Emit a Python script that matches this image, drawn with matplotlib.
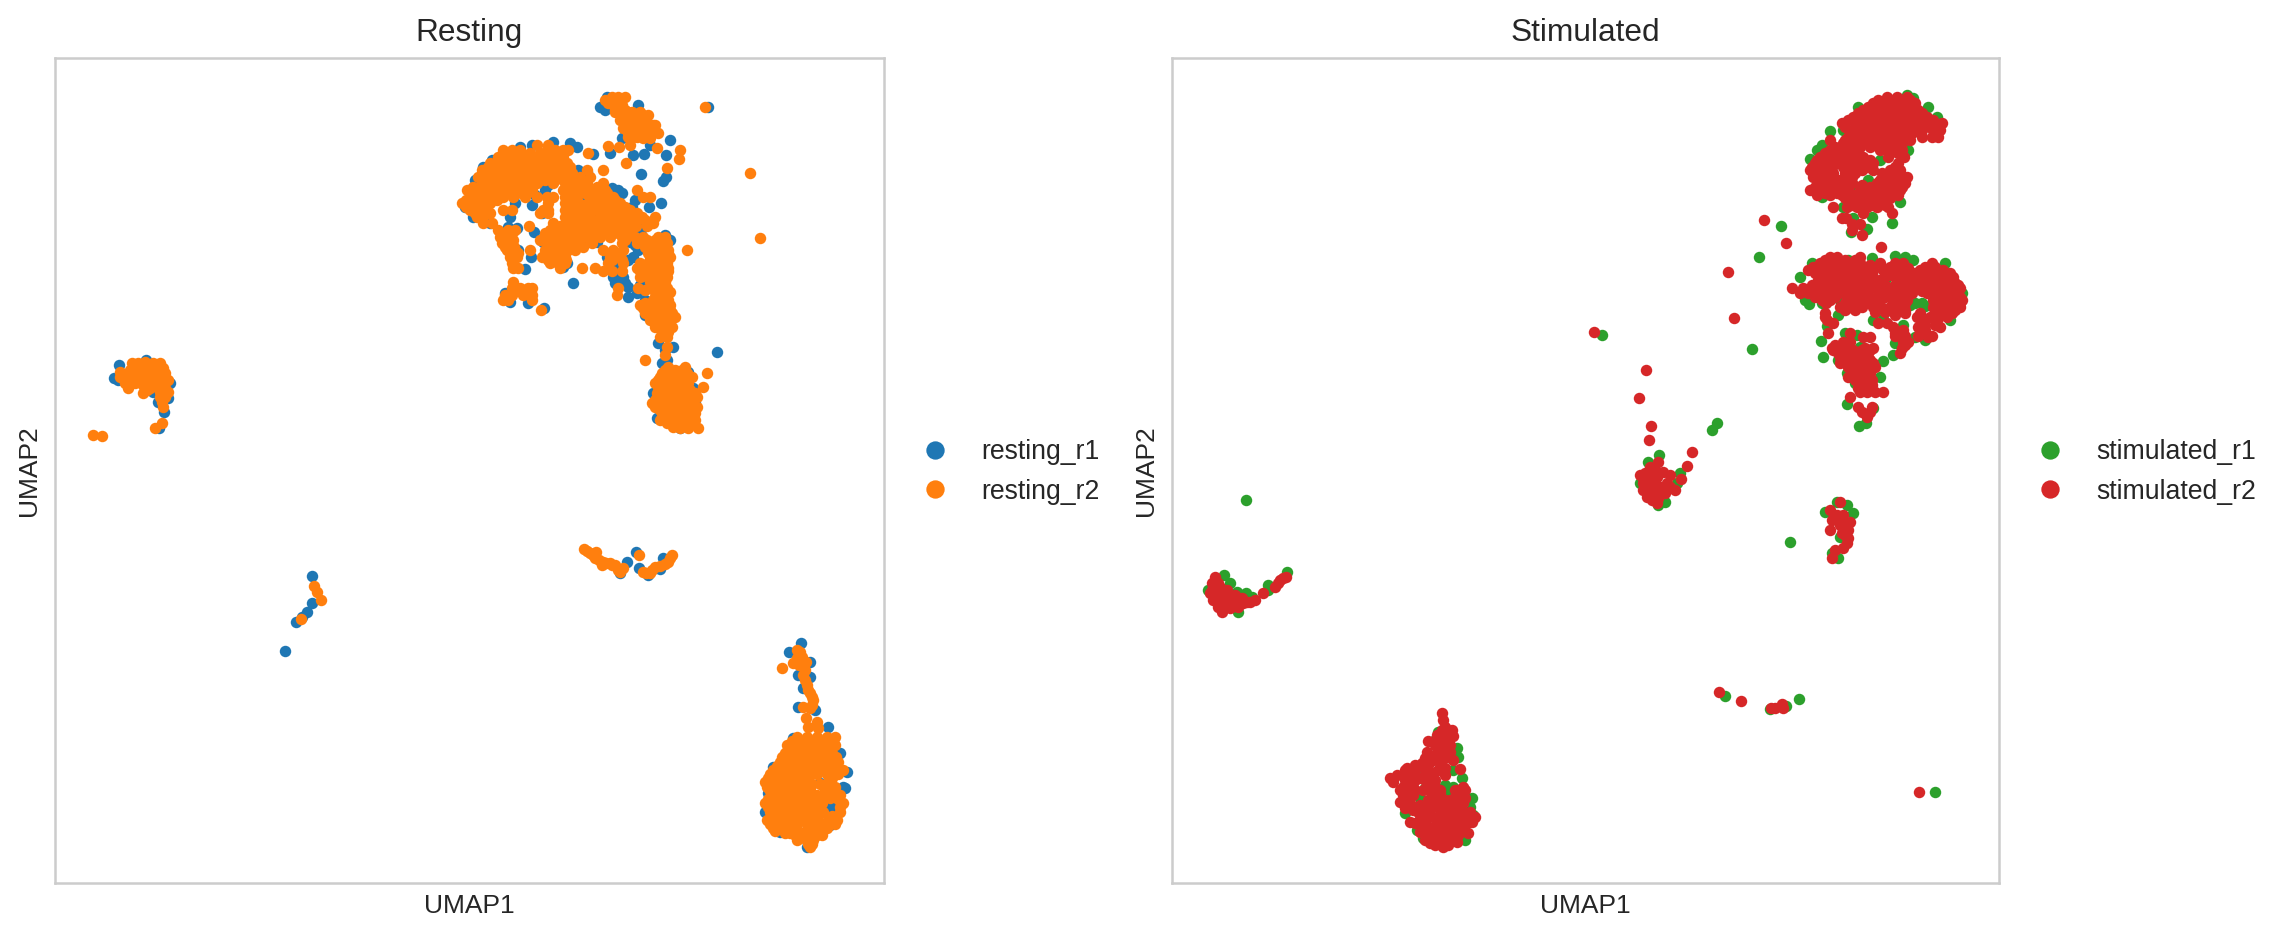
import numpy as np
import matplotlib
matplotlib.use("Agg")
import matplotlib.pyplot as plt
from matplotlib.lines import Line2D

plt.rcParams["font.family"] = ["Liberation Sans", "DejaVu Sans"]

# UMAP positions, scale is the picture's pixel grid
# rows are (umap2, [umap1, ...]), single points are (umap1, umap2)

r2_main_rows = [
    (97, [612, 618, 625]), (100, [605]), (103, [610, 617]), (110, [625, 615]),
    (112, [615, 622, 628]), (115, [637, 643, 648]), (120, [620, 627, 633]),
    (122, [640]), (123, [647]), (125, [653]), (128, [623, 637]),
    (130, [630, 643]), (132, [650]), (133, [658]), (137, [628, 637]),
    (138, [643]), (145, [630, 537, 548]),
    (150, [503, 512, 520, 547, 555, 563, 568]),
    (157, [498, 507, 515, 523, 537, 547, 555, 563]),
    (163, [490, 498, 507, 515, 530, 538, 550, 558, 567]),
    (170, [482, 490, 498, 508, 520, 528, 537, 550, 558, 567, 587, 603]),
    (177, [478, 487, 495, 503, 520, 528, 538, 550, 560, 567, 580, 590]),
    (183, [482, 490, 502, 510, 518, 527, 537, 553, 565, 572, 578, 587, 603]),
    (190, [467, 480, 492, 502, 512, 522, 532, 563, 570, 580, 590, 600, 637]),
    (197, [472, 480, 490, 503, 513, 525, 537, 547, 553, 565, 573, 590, 600, 613, 643, 650]),
    (203, [462, 470, 480, 490, 548, 565, 573, 588, 597, 610, 620]),
    (210, [470, 478, 487, 503, 512, 543, 548, 565, 572, 587, 597, 612, 623, 630]),
    (217, [477, 483, 565, 572, 582, 588, 603, 625, 632, 642, 655]),
    (223, [483, 492, 553, 567, 575, 583, 593, 610, 620, 632, 653]),
    (230, [498, 508, 515, 555, 565, 573, 583, 592, 600, 613, 622, 630]),
    (237, [500, 510, 557, 565, 573, 583, 593, 610, 622, 635, 643, 658, 665]),
    (243, [502, 512, 547, 557, 565, 575, 592, 622, 637, 653, 660, 667]),
    (250, [507, 515, 530, 545, 557, 568, 575, 603, 613, 623, 653, 662, 668, 687]),
    (257, [510, 517, 542, 553, 565, 610, 620, 650, 660, 670]),
    (263, [512, 550, 558, 565, 608, 623, 640, 648, 655, 667]),
    (268, [513, 518, 560, 582, 595, 637, 645, 653, 662, 668]),
    (277, [640, 648, 657, 667]), (282, [513]),
    (288, [512, 520, 528, 532, 618, 638, 652, 660, 667]),
    (295, [505, 512, 523, 532, 617, 660, 667]),
    (300, [503, 508, 532, 653, 662, 668]),
    (305, [640, 648, 657, 665, 670]),
    (310, [541, 653, 662, 670]), (317, [655, 663, 675]), (323, [658, 667]),
    (332, [662, 668]), (347, [667]), (355, [665]), (360, [645]),
    (367, [668, 685]), (373, [662, 670, 678, 687, 707]),
    (380, [658, 667, 675, 683]), (387, [658, 667, 673, 682, 703]),
    (393, [657, 667, 675, 685, 695]), (403, [652, 660, 673, 682, 693]),
    (410, [660, 670, 678, 687]), (417, [662, 670, 680, 690]),
    (423, [667, 677, 685, 693]), (428, [680, 688, 698]),
]
r2_main_fill = [
    (153, [530, 540]), (160, [505, 513, 522, 530, 540, 552, 560]),
    (167, [488, 495, 503, 512, 520, 530, 540, 553, 562, 570]),
    (173, [485, 493, 500, 510, 523, 533, 545, 555, 563, 572]),
    (180, [485, 495, 507, 515, 523, 533, 545, 555, 567, 575]),
    (187, [473, 485, 497, 505, 515, 525, 567, 575]),
    (193, [475, 485, 497, 507, 517, 527, 568, 577, 585, 595, 607]),
    (200, [466, 476, 485, 497, 568, 577, 592, 603, 615]),
    (207, [466, 474, 484, 568, 592, 605, 617, 625]),
    (213, [475, 482, 490, 540, 548, 568, 577, 590, 600, 608, 620, 628, 637]),
    (220, [570, 578, 590, 598, 607, 615, 628, 637, 645]),
    (226, [529, 560, 570, 578, 590, 598, 605, 618, 627, 636, 647]),
    (233, [502, 512, 560, 568, 578, 590, 598, 607, 618, 627]),
    (240, [503, 513, 552, 562, 570, 580, 590, 625, 647, 655, 663]),
    (247, [505, 514, 548, 560, 572, 583, 645]),
    (253, [510, 518, 545, 555, 565, 610, 620, 648, 660, 668]),
    (260, [548, 556, 566, 612, 622, 655, 665]),
    (271, [603, 612, 622, 640, 648, 658, 668]),
    (290, [520, 525]), (292, [655, 663, 670]), (298, [508, 657, 665]),
    (303, [645, 655, 668]), (308, [643, 650, 658, 667]),
    (313, [645, 655, 663, 672]), (320, [650, 660, 670]),
    (327, [655, 663, 672]), (337, [660, 667]),
    (370, [665, 675, 682]), (377, [660, 668, 677, 685, 692]),
    (383, [655, 663, 672, 680, 688]), (390, [660, 670, 680, 690]),
    (397, [657, 665, 678, 688, 697]), (400, [655, 667, 680, 690]),
    (407, [655, 665, 677, 688, 697]), (413, [662, 675, 685, 695]),
    (420, [660, 672, 682, 695]), (427, [673]),
]
r2_main_extra = [
    (608, 103), (615, 106), (622, 105), (630, 118), (625, 118), (632, 112),
    (640, 112), (635, 125), (628, 127), (645, 120), (652, 130), (655, 125),
    (633, 137), (650, 138), (640, 130), (635, 118), (628, 133), (648, 130),
    (597, 187), (605, 190), (610, 205), (603, 213), (620, 215), (630, 218),
    (605, 225), (600, 237), (610, 230), (583, 205), (580, 210), (578, 215),
    (590, 213), (545, 233), (550, 230), (548, 240), (540, 240), (552, 250),
    (562, 257), (647, 270), (642, 275), (650, 282), (660, 272), (665, 282),
    (645, 290), (655, 297), (660, 282), (540, 180), (545, 175), (548, 165),
]
r2_scattered = [
    (705, 107), (750, 173), (760, 238), (608, 146), (619, 147), (588, 153),
    (626, 163), (680, 150), (679, 159), (667, 168), (657, 148),
]
r2_left = [
    (132, 363), (138, 363), (145, 362), (153, 363), (160, 363), (120, 372),
    (130, 370), (138, 370), (147, 368), (157, 370), (165, 373), (120, 377),
    (130, 378), (140, 378), (152, 377), (160, 378), (168, 380), (128, 388),
    (143, 385), (150, 383), (158, 387), (168, 392), (163, 385), (143, 393),
    (147, 390), (162, 402), (165, 397), (163, 407), (162, 423), (155, 428),
    (93, 435), (102, 436), (314, 586), (317, 592), (321, 600), (301, 619),
    (125, 375), (135, 375), (145, 375), (155, 373), (125, 383), (135, 383),
    (145, 380), (155, 382), (165, 378), (150, 388), (160, 392), (165, 388),
    (160, 397), (143, 370), (153, 368), (163, 368),
]
r2_band = [
    (584, 549), (590, 553), (596, 552), (595, 558), (602, 565), (603, 562),
    (610, 563), (615, 565), (620, 572), (623, 568), (639, 555), (643, 572),
    (650, 573), (655, 567), (660, 566), (668, 562), (672, 555), (587, 551),
    (599, 560), (606, 563), (612, 565), (618, 570), (646, 573), (652, 570),
    (665, 564), (670, 558), (593, 555),
]
r2_tail = [
    (797, 650), (802, 657), (793, 663), (803, 665), (782, 668), (803, 675),
    (807, 685), (810, 693), (813, 700), (803, 707), (810, 708), (806, 718),
    (817, 722), (808, 727), (818, 728), (800, 652), (797, 658), (799, 665),
    (806, 662), (805, 670), (805, 680), (808, 690), (812, 697), (812, 705),
]
r2_bottom_rows = [
    (737, [797, 807, 817, 827, 835]), (745, [787, 797, 807, 817, 827, 835]),
    (753, [785, 793, 803, 813, 823, 832]),
    (762, [780, 790, 800, 810, 820, 830, 838]),
    (770, [773, 782, 792, 802, 812, 822, 832, 843]),
    (778, [768, 778, 788, 798, 808, 832]), (787, [767, 777, 787, 797, 835]),
    (795, [773, 782, 793, 807, 817, 840]),
    (803, [765, 775, 787, 802, 812, 822, 843]),
    (812, [770, 778, 793, 803, 813, 823, 840]),
    (820, [767, 777, 792, 802, 812, 828, 837]),
    (828, [773, 778, 793, 808, 818, 827]), (835, [795, 807, 817, 822]),
    (840, [797, 807, 813]), (847, [810]),
    (741, [792, 802, 812, 822, 832]), (749, [790, 800, 810, 820, 830]),
    (757, [782, 790, 798, 808, 818, 828, 836]),
    (766, [777, 785, 795, 805, 815, 825, 835]),
    (774, [770, 777, 787, 797, 807, 817, 827, 838]),
    (782, [765, 773, 783, 793, 830]), (791, [770, 780, 790, 835]),
    (799, [768, 778, 790, 803, 813, 823, 838]),
    (807, [768, 780, 790, 800, 810, 820, 840]),
    (816, [772, 798, 808, 818, 832]),
    (824, [770, 780, 797, 807, 817, 825, 835]),
    (831, [775, 798, 810, 820]), (838, [800, 812]), (844, [808, 812]),
    (800, [795]), (810, [785, 795]), (818, [785, 795]), (826, [785]),
    (833, [785, 790]), (784, [803, 812, 820, 826]), (790, [800, 810, 825]),
    (798, [830]),
]
r1_main = [
    (600, 107), (605, 110), (607, 97), (638, 105), (622, 138), (670, 140),
    (650, 145), (610, 153), (633, 155), (644, 154), (666, 155), (593, 154),
    (641, 174), (666, 177), (663, 181), (661, 203), (649, 207), (618, 190),
    (612, 188), (553, 142), (532, 145), (520, 147), (570, 143), (577, 147),
    (505, 152), (492, 160), (483, 167), (475, 180), (465, 207), (473, 217),
    (490, 223), (508, 227), (517, 228), (534, 232), (532, 205), (510, 217),
    (542, 213), (515, 203), (578, 170), (587, 172), (580, 202), (578, 197),
    (597, 213), (622, 193), (632, 207), (623, 212), (617, 213), (642, 228),
    (665, 235), (670, 240), (630, 242), (638, 250), (633, 257), (607, 257),
    (531, 257), (543, 242), (525, 269), (518, 250), (563, 267), (573, 283),
    (567, 263), (583, 240), (597, 242), (613, 277), (623, 277), (628, 287),
    (628, 297), (637, 293), (615, 283), (505, 293), (510, 302), (528, 303),
    (544, 308), (645, 315), (652, 320), (658, 343), (673, 347), (662, 363),
    (717, 352), (688, 372), (693, 388), (708, 107), (653, 393), (657, 418),
    (680, 428), (672, 422), (548, 185), (545, 190), (535, 195), (525, 195),
    (500, 183), (512, 178), (580, 190), (605, 205), (595, 200), (615, 205),
    (635, 200), (628, 235), (640, 235), (635, 245), (628, 260), (652, 262),
    (657, 267), (648, 285), (655, 288), (620, 265), (612, 268), (618, 278),
    (625, 283), (640, 285), (645, 300), (665, 350), (667, 360), (680, 375),
    (683, 395), (668, 410), (695, 403),
]
r1_left = [
    (119, 365), (114, 378), (118, 380), (146, 360), (164, 412), (158, 402),
    (170, 383), (168, 398), (159, 428), (153, 392), (312, 576), (312, 603),
    (307, 612), (302, 617), (296, 622), (285, 651),
]
r1_band = [
    (636, 552), (627, 562), (620, 573), (639, 568), (663, 558), (660, 569),
    (648, 575),
]
r1_bottom = [
    (801, 643), (789, 652), (810, 662), (798, 675), (810, 677), (803, 688),
    (798, 707), (815, 710), (828, 727), (793, 738), (840, 753), (847, 772),
    (845, 788), (773, 767), (765, 812), (810, 785), (820, 783), (830, 793),
    (833, 807), (785, 812), (780, 832), (807, 847), (823, 830), (817, 823),
    (768, 793), (843, 787), (805, 785), (800, 790), (828, 800), (830, 810),
    (785, 805), (782, 818), (790, 825), (775, 820), (830, 825), (815, 830),
    (795, 800), (780, 795), (790, 785),
]

s2_top_rows = [
    (97, [1887, 1897, 1907]), (103, [1873, 1883, 1893, 1903, 1915]),
    (110, [1863, 1873, 1883, 1897, 1907, 1918]),
    (117, [1853, 1863, 1873, 1883, 1897, 1907, 1917, 1927]),
    (123, [1842, 1855, 1865, 1875, 1885, 1895, 1905, 1915, 1927, 1942]),
    (130, [1855, 1865, 1875, 1885, 1895, 1905, 1922, 1933, 1940]),
    (137, [1848, 1858, 1868, 1878, 1895, 1905, 1922, 1932, 1938]),
    (140, [1830]), (143, [1843, 1853, 1867, 1877, 1893, 1902]),
    (150, [1830, 1840, 1855, 1893, 1902]),
    (157, [1820, 1830, 1840, 1855, 1863, 1888, 1904]),
    (163, [1815, 1825, 1835, 1848, 1858, 1873, 1898]),
    (170, [1810, 1820, 1830, 1848, 1862, 1873, 1900]),
    (177, [1813, 1823, 1833, 1852, 1885, 1895, 1907]),
    (183, [1823, 1835, 1847, 1852, 1877, 1887, 1897, 1905]),
    (190, [1810, 1820, 1833, 1845, 1877, 1887, 1900]),
    (195, [1817, 1830, 1842, 1857, 1867, 1878, 1898]),
    (202, [1848, 1858, 1868, 1880]),
    (207, [1833, 1847, 1857, 1867, 1877, 1888]), (213, [1863, 1892]),
    (218, [1842, 1846]), (224, [1860, 1852]), (230, [1852]), (235, [1862]),
    (100, [1878, 1890, 1900, 1910]), (107, [1868, 1878, 1888, 1900, 1912]),
    (113, [1858, 1868, 1878, 1890, 1902, 1912, 1922]),
    (120, [1848, 1858, 1868, 1878, 1890, 1902, 1912, 1922, 1933]),
    (127, [1845, 1860, 1870, 1880, 1890, 1900, 1910, 1918, 1930, 1938]),
    (133, [1850, 1860, 1870, 1880, 1890, 1900, 1912]),
    (140, [1845, 1853, 1863, 1873, 1883, 1890, 1900]),
    (147, [1835, 1847, 1860, 1870, 1897]),
    (153, [1825, 1835, 1845, 1858, 1890, 1898]),
    (160, [1817, 1827, 1837, 1850, 1860, 1870]),
    (167, [1812, 1822, 1832, 1843, 1855, 1867, 1895]),
    (173, [1813, 1823, 1833, 1845, 1855, 1882, 1890, 1900]),
    (180, [1818, 1828, 1840, 1850, 1880, 1890, 1900]),
    (187, [1815, 1828, 1840, 1848, 1870, 1882, 1892, 1902]),
    (193, [1825, 1837, 1850, 1860, 1872, 1885, 1895]),
    (198, [1845, 1855, 1865, 1875, 1890]), (205, [1852, 1862, 1872, 1885]),
    (150, [1880]), (147, [1887]), (143, [1880]), (133, [1885]), (125, [1905]),
    (118, [1912]), (130, [1915]), (140, [1910]), (185, [1885, 1862]),
    (195, [1870]), (200, [1875]), (170, [1890]), (190, [1860, 1868]),
]
s2_mid_rows = [
    (257, [1830, 1837, 1860]),
    (263, [1820, 1830, 1840, 1850, 1860, 1880, 1895, 1903, 1932]),
    (270, [1808, 1820, 1830, 1840, 1850, 1860, 1873, 1883, 1895, 1905, 1920, 1930, 1943]),
    (277, [1820, 1830, 1840, 1855, 1873, 1895, 1903, 1917, 1927, 1937, 1947, 1953]),
    (283, [1823, 1835, 1857, 1877, 1900, 1917, 1927, 1937, 1947, 1955]),
    (288, [1792, 1803, 1817, 1830, 1852, 1863, 1882, 1893, 1903, 1918, 1928, 1940, 1950, 1960]),
    (293, [1800, 1808, 1822, 1832, 1843, 1857, 1880, 1893, 1912, 1927, 1940, 1952]),
    (300, [1822, 1830, 1847, 1858, 1872, 1895, 1907, 1933, 1945, 1957, 1962]),
    (307, [1840, 1850, 1862, 1873, 1890, 1900, 1933, 1945, 1960]),
    (313, [1825, 1905, 1920, 1943, 1952]), (320, [1827, 1923, 1937]),
    (323, [1833, 1878, 1887]), (327, [1893, 1918, 1940]),
    (333, [1828, 1850, 1895, 1900, 1923]), (337, [1863, 1870, 1928]),
    (342, [1843, 1850, 1903, 1908]),
    (348, [1832, 1838, 1848, 1865, 1873, 1902]),
    (353, [1838, 1847, 1857, 1865, 1900]), (363, [1840, 1852, 1863, 1873]),
    (370, [1855, 1867]), (377, [1848, 1860, 1868]), (385, [1860, 1872]),
    (392, [1860, 1867, 1875, 1883]), (397, [1850]), (407, [1858, 1872]),
    (417, [1867]),
    (260, [1825, 1835, 1845, 1855]),
    (267, [1813, 1825, 1835, 1845, 1855, 1865, 1890, 1900, 1925, 1935]),
    (273, [1815, 1825, 1835, 1845, 1855, 1868, 1895, 1915, 1925, 1935, 1945, 1950]),
    (280, [1818, 1828, 1838, 1850, 1862, 1880, 1900, 1912, 1922, 1932, 1942, 1952]),
    (285, [1812, 1822, 1835, 1858, 1868, 1885, 1895, 1905, 1922, 1932, 1942, 1952, 1958]),
    (291, [1812, 1826, 1838, 1848, 1868, 1888, 1898, 1908, 1922, 1935, 1945, 1955]),
    (297, [1815, 1825, 1835, 1850, 1862, 1885, 1900, 1935, 1945, 1955, 1960]),
    (303, [1826, 1845, 1855, 1865, 1893, 1905, 1938, 1950, 1960]),
    (310, [1845, 1855, 1890, 1935, 1948, 1955]),
    (317, [1825, 1917, 1930, 1947]), (325, [1925, 1935]),
    (330, [1895, 1903, 1925]), (336, [1895, 1905, 1918, 1932]),
    (345, [1835, 1845, 1905]), (350, [1833, 1843, 1853, 1862, 1870]),
    (357, [1840, 1850, 1860, 1868]), (360, [1845, 1855, 1865, 1870]),
    (367, [1848, 1858, 1868, 1875]), (373, [1852, 1862, 1870]),
    (380, [1855, 1865, 1872]), (388, [1858, 1866]), (412, [1862, 1870]),
    (288, [1875]), (300, [1870]), (295, [1878, 1895, 1908]), (305, [1880]),
    (312, [1885, 1875]), (290, [1913]), (310, [1905]), (315, [1895]),
    (283, [1845]), (270, [1850]), (275, [1862, 1888, 1912]), (283, [1868]),
    (270, [1885]), (268, [1908]), (265, [1870]),
]
s2_scattered = [
    (1881, 247), (1786, 243), (1764, 220), (1728, 272), (1734, 318),
    (1594, 332), (1646, 370), (1639, 398), (1651, 426), (1649, 440),
    (1692, 452), (1687, 466), (1681, 479), (1719, 692), (1741, 701),
    (1771, 708), (1775, 708), (1782, 704), (1783, 708), (1919, 792),
]
s2_small = [
    (1658, 462), (1650, 467), (1645, 473), (1640, 475), (1663, 472),
    (1670, 475), (1647, 480), (1655, 483), (1667, 483), (1675, 490),
    (1643, 490), (1650, 492), (1660, 493), (1647, 497), (1657, 503),
    (1652, 500), (1665, 493), (1643, 483), (1840, 502), (1830, 510),
    (1843, 515), (1832, 520), (1850, 522), (1830, 530), (1840, 525),
    (1845, 535), (1848, 538), (1843, 548), (1835, 550), (1832, 558),
    (1847, 543), (1842, 533), (1655, 470), (1650, 475), (1657, 477),
    (1662, 487), (1670, 487), (1648, 487), (1655, 490), (1658, 498),
    (1837, 515), (1845, 522), (1848, 530), (1838, 518),
]
s2_crescent = [
    (1215, 577), (1212, 583), (1218, 583), (1210, 593), (1218, 592),
    (1227, 590), (1213, 600), (1222, 600), (1230, 598), (1238, 600),
    (1222, 612), (1230, 608), (1238, 607), (1247, 602), (1255, 600),
    (1263, 593), (1275, 587), (1280, 580), (1286, 577), (1230, 603),
    (1218, 607), (1212, 590), (1220, 596), (1215, 596), (1225, 605),
    (1235, 603), (1243, 603), (1220, 587), (1225, 595), (1235, 595),
    (1242, 598), (1250, 602), (1278, 583), (1283, 578),
]
s2_bottom = [
    (1442, 713), (1443, 720), (1445, 727), (1448, 733), (1453, 736),
    (1445, 740), (1428, 741), (1443, 747), (1450, 745), (1427, 752),
    (1437, 753), (1447, 752), (1453, 760), (1433, 760), (1415, 765),
    (1428, 765), (1460, 769), (1397, 775), (1390, 778), (1393, 782),
    (1410, 773), (1417, 767), (1427, 775), (1433, 773), (1445, 775),
    (1403, 787), (1413, 783), (1435, 787), (1463, 787), (1403, 795),
    (1433, 797), (1455, 797), (1465, 798), (1400, 802), (1410, 803),
    (1435, 805), (1453, 805), (1463, 803), (1413, 810), (1423, 812),
    (1440, 810), (1453, 812), (1463, 812), (1410, 822), (1420, 820),
    (1433, 817), (1443, 817), (1453, 818), (1463, 820), (1475, 817),
    (1472, 822), (1423, 828), (1433, 827), (1443, 825), (1453, 827),
    (1463, 828), (1468, 833), (1428, 837), (1438, 835), (1448, 835),
    (1458, 835), (1430, 843), (1443, 847), (1437, 843), (1457, 842),
    (1450, 840), (1410, 793), (1420, 805), (1403, 775), (1413, 795),
    (1405, 775), (1415, 775), (1407, 768), (1420, 778), (1428, 783),
    (1423, 790), (1415, 790), (1408, 797), (1418, 812), (1437, 735),
    (1445, 735), (1440, 742), (1435, 745), (1450, 752), (1440, 760),
    (1425, 758), (1445, 768), (1455, 790), (1450, 802), (1445, 800),
    (1470, 812), (1440, 793),
]
s2_bottom_fill = [
    (815, [1420, 1430, 1440, 1450, 1460, 1470]),
    (823, [1415, 1425, 1437, 1447, 1457, 1467]),
    (832, [1420, 1430, 1440, 1450, 1460]), (840, [1425, 1435, 1445, 1455]),
    (845, [1435, 1448]), (790, [1400, 1408, 1430, 1440, 1458, 1465]),
    (800, [1405, 1428, 1440, 1450, 1460]),
    (808, [1405, 1418, 1430, 1445, 1458]), (780, [1405, 1415, 1425, 1435]),
    (757, [1430, 1440, 1447]), (770, [1405, 1425, 1438]), (763, [1422, 1440]),
    (730, [1442, 1452]),
]
s1_points = [
    (1830, 131), (1822, 145), (1817, 150), (1810, 159), (1858, 107),
    (1928, 107), (1937, 117), (1908, 150), (1880, 160), (1868, 180),
    (1853, 185), (1822, 197), (1843, 207), (1853, 218), (1872, 217),
    (1892, 223), (1867, 229), (1851, 232), (1900, 202), (1907, 95),
    (1913, 98), (1880, 193), (1843, 130), (1812, 263), (1800, 277),
    (1805, 300), (1809, 304), (1838, 315), (1822, 303), (1827, 326),
    (1821, 341), (1823, 357), (1848, 260), (1872, 258), (1895, 256),
    (1905, 257), (1913, 260), (1945, 263), (1962, 293), (1950, 320),
    (1915, 303), (1922, 303), (1873, 320), (1883, 319), (1903, 325),
    (1915, 337), (1895, 343), (1893, 355), (1925, 340), (1883, 361),
    (1880, 377), (1847, 373), (1855, 383), (1847, 404), (1873, 408),
    (1859, 426), (1866, 423), (1877, 283), (1857, 335), (1845, 333),
    (1838, 360), (1860, 347), (1897, 277), (1887, 272), (1910, 273),
    (1781, 226), (1759, 257), (1752, 349), (1602, 335), (1717, 423),
    (1712, 430), (1790, 542), (1659, 455), (1648, 462), (1680, 473),
    (1640, 483), (1658, 505), (1665, 502), (1677, 483), (1837, 502),
    (1825, 512), (1853, 513), (1847, 505), (1832, 553), (1838, 558),
    (1840, 537), (1224, 575), (1230, 583), (1237, 592), (1246, 593),
    (1268, 585), (1268, 590), (1287, 572), (1208, 590), (1238, 612),
    (1252, 597), (1246, 500), (1410, 772), (1438, 732), (1457, 748),
    (1458, 757), (1453, 770), (1462, 778), (1453, 787), (1447, 788),
    (1425, 788), (1420, 798), (1472, 798), (1470, 807), (1473, 815),
    (1405, 813), (1417, 830), (1423, 838), (1465, 840), (1435, 740),
    (1725, 696), (1770, 709), (1786, 706), (1799, 699), (1935, 792),
    (1910, 305), (1925, 306), (1880, 285), (1885, 280), (1905, 280),
    (1855, 270), (1830, 295), (1840, 300), (1955, 290), (1950, 305),
    (1445, 785), (1450, 795), (1415, 770),
]


def to_xy(rows=(), points=()):
    xs = [x for y, row in rows for x in row] + [p[0] for p in points]
    ys = [y for y, row in rows for x in row] + [p[1] for p in points]
    return np.array(xs), np.array(ys)


W, H = 2291, 940
fig = plt.figure(figsize=(W / 200, H / 200), dpi=200)


def panel(x0, x1, y0, y1, title, series):
    ax = fig.add_axes([x0 / W, 1 - y1 / H, (x1 - x0) / W, (y1 - y0) / H])
    handles = []
    for name, color, xy in series:
        ax.scatter(xy[0], xy[1], s=17, c=color, linewidths=0)
        handles.append(Line2D([], [], ls="", marker="o", ms=6.6, mew=0, color=color, label=name))
    ax.set_xlim(x0, x1)
    ax.set_ylim(y1, y0)
    ax.set_xticks([])
    ax.set_yticks([])
    for sp in ax.spines.values():
        sp.set_color("#cccccc")
        sp.set_linewidth(0.9)
    ax.set_title(title, fontsize=11.4, color="#262626", pad=6)
    ax.set_xlabel("UMAP1", fontsize=9.5, color="#262626", labelpad=4)
    ax.set_ylabel("UMAP2", fontsize=9.5, color="#262626", labelpad=5)
    ax.legend(handles=handles, loc="center left", bbox_to_anchor=(1, 0.498), frameon=False,
              fontsize=9.6, labelspacing=0.5, handletextpad=0.75, labelcolor="#262626")
    return ax


r1 = to_xy(points=r1_main + r1_left + r1_band + r1_bottom)
r2 = to_xy(r2_main_rows + r2_main_fill + r2_bottom_rows,
           r2_main_extra + r2_scattered + r2_left + r2_band + r2_tail)
s1 = to_xy(points=s1_points)
s2 = to_xy(s2_top_rows + s2_mid_rows + s2_bottom_fill, s2_scattered + s2_small + s2_crescent + s2_bottom)

panel(55, 884, 58, 883, "Resting", [("resting_r1", "#1f77b4", r1), ("resting_r2", "#ff7f0e", r2)])
panel(1172, 1999, 58, 883, "Stimulated", [("stimulated_r1", "#2ca02c", s1), ("stimulated_r2", "#d62728", s2)])

fig.savefig("out.png", dpi=200)
